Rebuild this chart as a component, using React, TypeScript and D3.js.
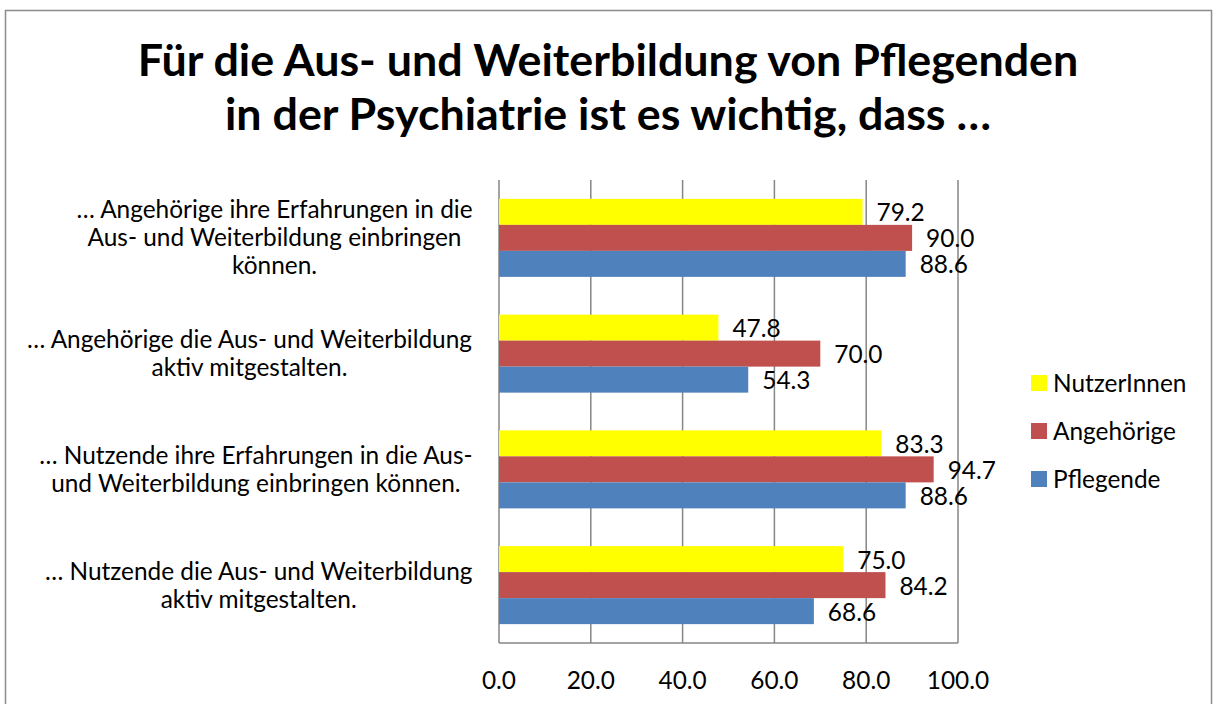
import * as d3 from 'd3';

const categories = [
  ['… Angehörige ihre Erfahrungen in die', 'Aus- und Weiterbildung einbringen', 'können.'],
  ['… Angehörige die Aus- und Weiterbildung', 'aktiv mitgestalten.'],
  ['… Nutzende ihre Erfahrungen in die Aus-', 'und Weiterbildung einbringen können.'],
  ['… Nutzende die Aus- und Weiterbildung', 'aktiv mitgestalten.'],
];
const seriesNames = ['NutzerInnen', 'Angehörige', 'Pflegende'];
const nutzerValues = [79.2, 47.8, 83.3, 75.0];
const angehoerigeValues = [90.0, 70.0, 94.7, 84.2];
const pflegendeValues = [88.6, 54.3, 88.6, 68.6];
const xTicks = [0, 20, 40, 60, 80, 100];
const titleLines = ['Für die Aus- und Weiterbildung von Pflegenden', 'in der Psychiatrie ist es wichtig, dass …'];

const colors = ['#FFFF00', '#C0504D', '#4F81BD'];
const font = 'Lato, "Open Sans", sans-serif';

let ctx: CanvasRenderingContext2D | null = null;
function textWidth(s: string, size: number) {
  if (!ctx) ctx = document.createElement('canvas').getContext('2d');
  if (!ctx) return s.length * size * 0.5;
  ctx.font = `${size}px Lato`;
  return ctx.measureText(s).width;
}

export default function App() {
  const width = 1214;
  const height = 704;
  const plot = { l: 499, r: 958, t: 180, b: 643 };
  const series = [nutzerValues, angehoerigeValues, pflegendeValues];

  const x = d3.scaleLinear().domain([0, 100]).range([plot.l, plot.r]);
  const y = d3.scaleBand<number>()
    .domain(d3.range(categories.length))
    .range([plot.t, plot.b])
    .paddingInner(0.326)
    .paddingOuter(0.163);
  const inner = d3.scaleBand<number>()
    .domain(d3.range(series.length))
    .range([0, y.bandwidth()]);

  const fs = 24.4;
  const lineH = 28;

  return (
    <svg width={width} height={height} style={{ position: 'absolute', left: 0, top: 0, display: 'block' }} fontFamily={font}>
      <rect x={0} y={0} width={width} height={height} fill="white" />
      <rect x={5.5} y={10.5} width={1206} height={720} fill="white" stroke="#8c8c8c" strokeWidth={1.5} />

      {titleLines.map((t, i) => (
        <text key={i} x={608} y={76 + i * 54} textAnchor="middle" fontSize={44.8} fontWeight="bold" fill="#000">{t}</text>
      ))}

      {/* gridlines */}
      {xTicks.map(t => (
        <line key={t} x1={x(t)} x2={x(t)} y1={plot.t} y2={plot.b} stroke="#868686" strokeWidth={1.5} />
      ))}
      <line x1={plot.l} x2={plot.r} y1={plot.b} y2={plot.b} stroke="#868686" strokeWidth={1.5} />

      {/* bars */}
      {categories.map((_, ci) => (
        <g key={ci} transform={`translate(0,${y(ci)})`}>
          {series.map((vals, si) => (
            <rect key={si} x={x(0)} y={inner(si)} width={x(vals[ci]) - x(0)} height={inner.bandwidth()} fill={colors[si]} />
          ))}
          {series.map((vals, si) => (
            <text key={'l' + si} x={x(vals[ci]) + 14} y={(inner(si) ?? 0) + inner.bandwidth() / 2 + 1} dy="0.35em" fontSize={fs} fill="#000">
              {vals[ci].toFixed(1)}
            </text>
          ))}
        </g>
      ))}

      {/* category labels */}
      {categories.map((lines, ci) => {
        const w = d3.max(lines, l => textWidth(l, fs)) ?? 0;
        const cx = 473 - w / 2;
        const cy = (y(ci) ?? 0) + y.bandwidth() / 2;
        const y0 = cy - ((lines.length - 1) * lineH) / 2;
        return (
          <g key={ci}>
            {lines.map((l, li) => (
              <text key={li} x={cx} y={y0 + li * lineH} dy="0.35em" textAnchor="middle" fontSize={fs} fill="#000">{l}</text>
            ))}
          </g>
        );
      })}

      {/* x tick labels */}
      {xTicks.map(t => (
        <text key={'t' + t} x={x(t)} y={680} dy="0.35em" textAnchor="middle" fontSize={fs} fill="#000">{t.toFixed(1)}</text>
      ))}

      {/* legend */}
      {seriesNames.map((n, i) => (
        <g key={n} transform={`translate(1031,${383 + i * 48})`}>
          <rect x={0} y={-8} width={16} height={16} fill={colors[i]} />
          <text x={22} y={0} dy="0.35em" fontSize={fs} fill="#000">{n}</text>
        </g>
      ))}
    </svg>
  );
}
